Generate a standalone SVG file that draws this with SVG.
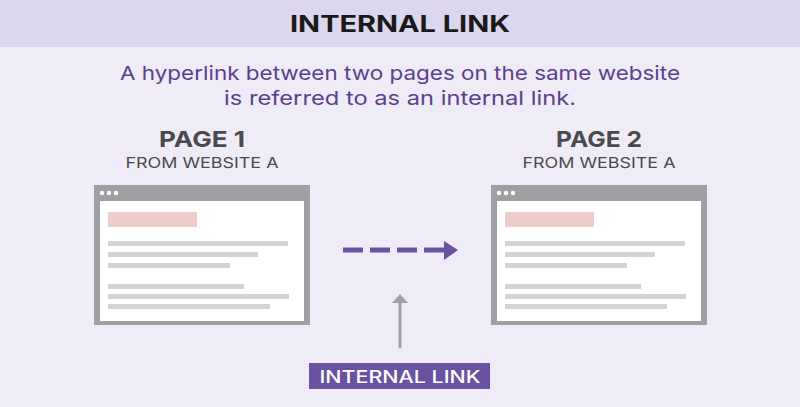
<svg xmlns="http://www.w3.org/2000/svg" width="800" height="407" viewBox="0 0 800 407">
<style>
text{font-family:Inter,"Liberation Sans",sans-serif;text-anchor:middle}
.frame{fill:#a09fa3}
.inner{fill:#fff}
.pink{fill:#efcccc}
.ln{fill:#d3d3d5}
.dot{fill:#fff}
.h{font-size:22px;font-weight:bold;fill:#4a4a4c}
.s{font-size:15px;fill:#4a4a4c}
</style>
<defs>
<g id="page">
<rect class="frame" x="0" y="0" width="216" height="140"/>
<rect class="inner" x="6" y="16" width="204" height="120"/>
<circle class="dot" cx="8" cy="8" r="2.2"/><circle class="dot" cx="15" cy="8" r="2.2"/><circle class="dot" cx="22" cy="8" r="2.2"/>
<rect class="pink" x="14" y="27" width="89" height="15" rx="1"/>
<rect class="ln" x="14" y="56" width="180" height="5"/>
<rect class="ln" x="14" y="67" width="150" height="5"/>
<rect class="ln" x="14" y="78" width="122" height="5"/>
<rect class="ln" x="14" y="99" width="136" height="5"/>
<rect class="ln" x="14" y="109" width="181" height="5"/>
<rect class="ln" x="14" y="119" width="162" height="5"/>
</g>
</defs>
<rect width="800" height="407" fill="#efecf7"/>
<rect width="800" height="47" fill="#dcd7ee"/>
<text x="400" y="32" textLength="220" lengthAdjust="spacingAndGlyphs" style="font-size:23px;font-weight:bold;fill:#1a1a1a">INTERNAL LINK</text>
<text x="400" y="80" textLength="560" lengthAdjust="spacingAndGlyphs" style="font-size:19px;fill:#5b3f8f">A hyperlink between two pages on the same website</text>
<text x="400" y="105" textLength="352" lengthAdjust="spacingAndGlyphs" style="font-size:19px;fill:#5b3f8f">is referred to as an internal link.</text>
<g id="page1">
<text class="h" x="202" y="147" textLength="86" lengthAdjust="spacingAndGlyphs">PAGE 1</text>
<text class="s" x="202" y="168" textLength="153" lengthAdjust="spacingAndGlyphs">FROM WEBSITE A</text>
<use href="#page" x="94" y="185"/>
</g>
<g id="page2">
<text class="h" x="599" y="147" textLength="86" lengthAdjust="spacingAndGlyphs">PAGE 2</text>
<text class="s" x="599" y="168" textLength="153" lengthAdjust="spacingAndGlyphs">FROM WEBSITE A</text>
<use href="#page" x="491" y="185"/>
</g>
<g id="connectors">
<line x1="343" y1="250" x2="446" y2="250" stroke="#6a52a0" stroke-width="5" stroke-dasharray="20,7"/>
<polygon points="444,241 458,250 444,260" fill="#6a52a0"/>
<line x1="400" y1="348" x2="400" y2="302" stroke="#a09fa3" stroke-width="3"/>
<polygon points="392,303 400,294 408,303" fill="#a09fa3"/>
</g>
<g id="label">
<rect x="309" y="363" width="181" height="26" fill="#6a52a0"/>
<text x="400" y="383" textLength="161" lengthAdjust="spacingAndGlyphs" style="font-size:17px;font-weight:500;fill:#fff">INTERNAL LINK</text>
</g>
</svg>
